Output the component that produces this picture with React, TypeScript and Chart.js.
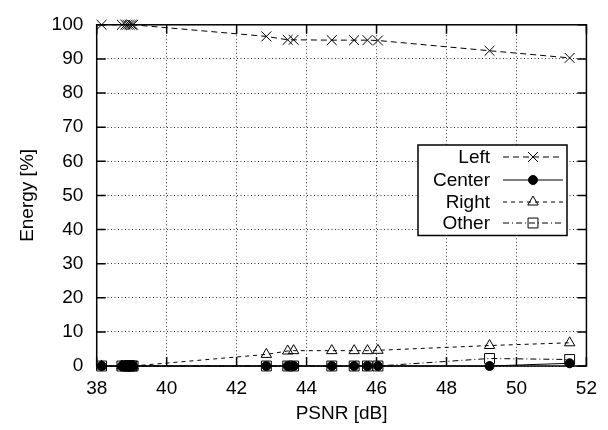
import React, { useEffect, useRef } from "react";
import { Chart, registerables } from "chart.js";
import { drawPoint } from "chart.js/helpers";

Chart.register(...registerables);

const psnr = [38.14, 38.72, 38.82, 38.88, 38.94, 39.0, 39.04, 42.85, 43.46, 43.63, 44.72, 45.36, 45.74, 46.04, 49.23, 51.52];
const leftEnergy = [100, 100, 100, 100, 100, 100, 100, 96.6, 95.6, 95.6, 95.5, 95.5, 95.5, 95.4, 92.4, 90.3];
const centerEnergy = [0, 0, 0, 0, 0, 0, 0, 0, 0, 0, 0, 0, 0, 0, 0, 0.8];
const rightEnergy = [0, 0, 0, 0, 0, 0, 0, 3.4, 4.4, 4.5, 4.5, 4.5, 4.5, 4.6, 6.0, 6.8];
const otherEnergy = [0, 0, 0, 0, 0, 0, 0, 0, 0, 0, 0, 0, 0, 0, 2.2, 1.9];
const xTicks = [38, 40, 42, 44, 46, 48, 50, 52];
const yTicks = [0, 10, 20, 30, 40, 50, 60, 70, 80, 90, 100];
const seriesNames = ["Left", "Center", "Right", "Other"];

const FONT = '"Liberation Sans", Arial, Helvetica, sans-serif';
const FS = 19;

const styles = [
  { dash: [6, 4], pointStyle: "crossRot", radius: 7, fill: "rgba(0,0,0,0)" },
  { dash: [], pointStyle: "circle", radius: 4.5, fill: "#000" },
  { dash: [4, 4], pointStyle: "triangle", radius: 6, fill: "rgba(0,0,0,0)" },
  { dash: [6, 3, 1, 3], pointStyle: "rect", radius: 7, fill: "rgba(0,0,0,0)" },
];

const toPoints = (ys: number[]) => psnr.map((x, i) => ({ x, y: ys[i] }));

const framePlugin = {
  id: "gnuFrame",
  afterDatasetsDraw(chart: any) {
    const { ctx, chartArea, scales } = chart;
    const { left, right, top, bottom } = chartArea;
    const xs = scales.x;
    const ys = scales.y;
    ctx.save();
    ctx.setLineDash([]);
    ctx.strokeStyle = "#000";
    ctx.lineWidth = 1.5;
    ctx.strokeRect(left, top, right - left, bottom - top);
    const tl = 9;
    ctx.beginPath();
    xTicks.forEach((v) => {
      const px = xs.getPixelForValue(v);
      ctx.moveTo(px, bottom);
      ctx.lineTo(px, bottom - tl);
      ctx.moveTo(px, top);
      ctx.lineTo(px, top + tl);
    });
    yTicks.forEach((v) => {
      const py = ys.getPixelForValue(v);
      ctx.moveTo(left, py);
      ctx.lineTo(left + tl, py);
      ctx.moveTo(right, py);
      ctx.lineTo(right - tl, py);
    });
    ctx.stroke();

    // legend
    const bx0 = 418, bx1 = 567, by0 = 145, by1 = 235.5;
    ctx.fillStyle = "#fff";
    ctx.fillRect(bx0, by0, bx1 - bx0, by1 - by0);
    ctx.lineWidth = 1.5;
    ctx.strokeRect(bx0, by0, bx1 - bx0, by1 - by0);
    const rowsY = [157, 180, 202, 223];
    ctx.font = `${FS}px ${FONT}`;
    ctx.textAlign = "right";
    ctx.textBaseline = "middle";
    seriesNames.forEach((name, i) => {
      const yy = rowsY[i];
      ctx.fillStyle = "#000";
      ctx.fillText(name, 490, yy + 1);
      ctx.lineWidth = 1;
      ctx.setLineDash(styles[i].dash);
      ctx.beginPath();
      ctx.moveTo(503, yy);
      ctx.lineTo(563, yy);
      ctx.stroke();
      ctx.setLineDash([]);
      ctx.fillStyle = styles[i].fill;
      drawPoint(ctx, { pointStyle: styles[i].pointStyle as any, radius: styles[i].radius, rotation: 0, borderWidth: 1 }, 533, yy);
    });
    ctx.restore();
  },
};

export default function App() {
  const ref = useRef<HTMLCanvasElement>(null);
  useEffect(() => {
    if (!ref.current) return;
    const allSeries = [leftEnergy, centerEnergy, rightEnergy, otherEnergy];
    const chart = new Chart(ref.current, {
      type: "scatter",
      data: {
        datasets: allSeries.map((ys, i) => ({
          label: seriesNames[i],
          data: toPoints(ys),
          showLine: true,
          borderColor: "#000",
          borderWidth: 1,
          borderDash: styles[i].dash,
          backgroundColor: styles[i].fill,
          pointStyle: styles[i].pointStyle as any,
          pointRadius: styles[i].radius,
          pointBorderColor: "#000",
          pointBackgroundColor: styles[i].fill,
          pointBorderWidth: 1,
          clip: false as any,
          order: 3 - i,
        })),
      },
      options: {
        responsive: false,
        animation: false,
        devicePixelRatio: 1,
        layout: { padding: { left: 0, right: 21.3, top: 15, bottom: 0 } },
        plugins: { legend: { display: false }, tooltip: { enabled: false } },
        scales: {
          x: {
            type: "linear",
            min: 38,
            max: 52,
            afterBuildTicks: (s: any) => {
              s.ticks = xTicks.map((v) => ({ value: v }));
            },
            afterFit: (s: any) => {
              s.height = 64;
            },
            ticks: { font: { family: FONT, size: FS }, color: "#000", padding: 11, maxRotation: 0 },
            grid: { color: "#333", lineWidth: 1, drawTicks: false },
            border: { display: false, dash: [1, 2.5] },
            title: { display: true, text: "PSNR [dB]", font: { family: FONT, size: FS }, color: "#000", padding: { top: 0, bottom: 5 } },
          },
          y: {
            type: "linear",
            min: 0,
            max: 100,
            afterBuildTicks: (s: any) => {
              s.ticks = yTicks.map((v) => ({ value: v }));
            },
            afterFit: (s: any) => {
              s.width = 96.7;
            },
            ticks: { font: { family: FONT, size: FS }, color: "#000", padding: 13.4 },
            grid: { color: "#333", lineWidth: 1, drawTicks: false },
            border: { display: false, dash: [1, 2.5] },
            title: { display: true, text: "Energy [%]", font: { family: FONT, size: FS }, color: "#000", padding: { top: 16, bottom: 0 } },
          },
        },
      },
      plugins: [framePlugin],
    });
    return () => chart.destroy();
  }, []);
  return (
    <div style={{ position: "absolute", left: 0, top: 0, width: 608, height: 430, background: "#fff" }}>
      <canvas ref={ref} width={608} height={430} style={{ width: 608, height: 430, display: "block" }} />
    </div>
  );
}
